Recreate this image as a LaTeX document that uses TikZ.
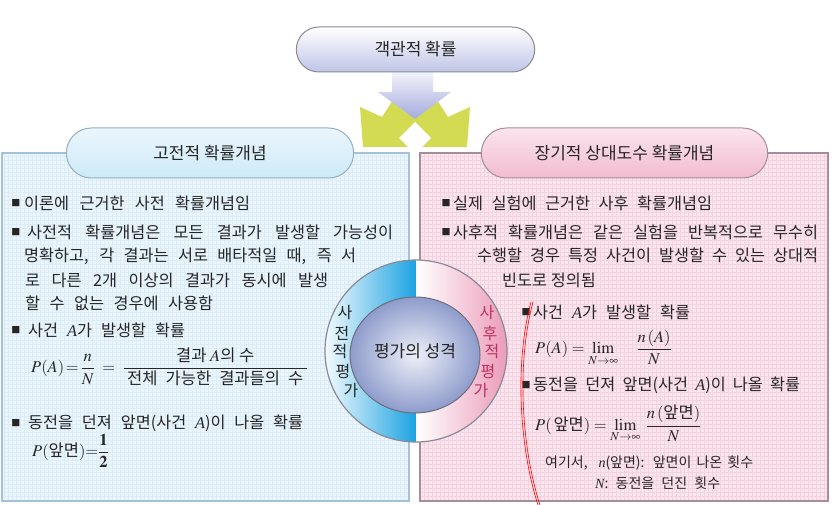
\documentclass[tikz,border=0pt]{standalone}
\usepackage{amsmath}
\usepackage{mathptmx}
\usepackage[no-math]{fontspec}
\setmainfont{Noto Sans CJK KR}
\newfontfamily\tms{Liberation Serif}
\usetikzlibrary{shapes.misc}
\definecolor{txt}{HTML}{262626}
\definecolor{leftfill}{HTML}{EBF5FC}
\definecolor{leftgrid}{HTML}{DDEDF8}
\definecolor{leftborder}{HTML}{A6C2D8}
\definecolor{rightfill}{HTML}{FBE5EE}
\definecolor{rightgrid}{HTML}{F4D2E0}
\definecolor{rightborder}{HTML}{A68C9C}
\definecolor{crown}{HTML}{D3DB52}
\definecolor{arrowtop}{HTML}{F2F2FB}
\definecolor{arrowbot}{HTML}{A4ACDC}
\definecolor{ringblue}{HTML}{1AA2E2}
\definecolor{ringpink}{HTML}{EA96B6}
\definecolor{ringborder}{HTML}{8A8A96}
\definecolor{ballin}{HTML}{EEF0F8}
\definecolor{ballout}{HTML}{8E9CCC}
\definecolor{redtxt}{HTML}{C0305E}
\newcommand{\ita}[1]{{\tms\itshape #1}}
\newcommand{\bodytxt}[5]{\node[bodyline] (#1) at (#2,#4) {\makebox[\dimexpr #3pt-#2pt\relax][s]{#5}};}
\newcommand{\bulletnode}[3]{\node[bulletmark] (#1) at (#2,#3) {■};}
\tikzset{
  pill/.style={rounded rectangle, draw, line width=1pt, text=txt, font=\fontsize{17}{19}\selectfont},
  bodyline/.style={anchor=west, inner sep=0pt, text=txt, font=\fontsize{16.3}{18}\selectfont},
  smallline/.style={anchor=west, inner sep=0pt, text=txt, font=\fontsize{14}{16}\selectfont},
  bulletmark/.style={inner sep=0pt, text=txt, font=\fontsize{9}{9}\selectfont},
  formula/.style={anchor=west, inner sep=0pt, text=txt, font=\fontsize{16.5}{18}\selectfont},
  ringl/.style={inner sep=0pt, text=txt, font=\fontsize{16}{16}\selectfont},
  ringr/.style={inner sep=0pt, text=redtxt, font=\fontsize{16}{16}\selectfont},
  redmark/.style={draw=red, line width=0.6pt},
}
\begin{document}
\begin{tikzpicture}[x=1pt,y=-1pt]
\useasboundingbox (0,0) rectangle (832,505);
\fill[white] (0,0) rectangle (832,505);

% boxes
\fill[leftfill] (2,153) rectangle (409,501);
\draw[step=4pt, leftgrid, line width=0.3pt] (2,501) grid (409,153);
\draw[leftborder, line width=1.4pt] (2,153) rectangle (409,501);
\fill[rightfill] (420,153) rectangle (828,501);
\draw[step=4pt, rightgrid, line width=0.3pt] (420,501) grid (828,153);
\draw[rightborder, line width=1.4pt] (420,153) rectangle (828,501);

% crown and arrow
\fill[crown] (360,107) -- (382,117) -- (393,100) -- (415,118) -- (437,100) -- (448,117) -- (470,107) -- (467,147) -- (363,147) -- cycle;
\fill[white] (415,122) -- (431,138) -- (415,154) -- (399,138) -- cycle;
\shade[top color=arrowtop, bottom color=arrowbot] (392,72) -- (433,72) -- (433,92) -- (451,92) -- (415,119) -- (378,92) -- (392,92) -- cycle;

% title pills
\node[pill, draw=ringborder, top color=white, bottom color=arrowbot!70] (toptitle) at (415.5,49.5) [minimum width=245pt, minimum height=45pt] {객관적 확률};
\node[pill, draw=leftborder!90!black, top color=leftfill, bottom color=ringblue!22] (lefttitle) at (210,153) [minimum width=294pt, minimum height=50pt] {고전적 확률개념};
\node[pill, draw=rightborder, top color=rightfill, bottom color=ringpink!65] (righttitle) at (624.5,153) [minimum width=293pt, minimum height=50pt] {장기적 상대도수 확률개념};

% left text
\bulletnode{lb1}{16}{203}
\bodytxt{l1}{24}{250}{203}{이론에 근거한 사전 확률개념임}
\bulletnode{lb2}{16}{232}
\bodytxt{l2}{27}{393}{232}{사전적 확률개념은 모든 결과가 발생할 가능성이}
\bodytxt{l3}{24}{356}{256}{명확하고, 각 결과는 서로 배타적일 때, 즉 서}
\bodytxt{l4}{25}{328}{280}{로 다른 2개 이상의 결과가 동시에 발생}
\bodytxt{l5}{25}{213}{303}{할 수 없는 경우에 사용함}
\bulletnode{lb3}{16}{330}
\bodytxt{l6}{28}{185}{330}{사건 \ita{A}가 발생할 확률}
\node[formula] (lf1) at (31,367) {$P(A)\,{=}\,\dfrac{n}{N}\;\;{=}\;\;\dfrac{\mbox{결과 }A\mbox{의 수}}{\makebox[183pt]{\makebox[176pt][s]{전체 가능한 결과들의 수}}}$};
\bulletnode{lb4}{16}{423}
\bodytxt{l7}{28}{303}{423}{동전을 던져 앞면(사건 \ita{A})이 나올 확률}
\node[formula] (lf2) at (32,451) {$P(\mbox{앞면}){=}\dfrac{\mathbf{1}}{\mathbf{2}}$};

% right text
\bulletnode{rb1}{446}{203}
\bodytxt{r1}{453}{712}{203}{실제 실험에 근거한 사후 확률개념임}
\bulletnode{rb2}{446}{232}
\bodytxt{r2}{453}{818}{232}{사후적 확률개념은 같은 실험을 반복적으로 무수히}
\bodytxt{r3}{477}{818}{255}{수행할 경우 특정 사건이 발생할 수 있는 상대적}
\node[bodyline] (r4) at (502,280) {빈도로 정의됨};
\bulletnode{rb3}{526}{312}
\bodytxt{r5}{533}{690}{312}{사건 \ita{A}가 발생할 확률}
\node[formula] (rf1) at (535,348) {$P(A)=\lim\limits_{N\to\infty}\quad\dfrac{n\,(A)}{N}$};
\bulletnode{rb4}{526}{385}
\bodytxt{r6}{533}{800}{385}{동전을 던져 앞면(사건 \ita{A})이 나올 확률}
\node[formula] (rf2) at (535,424) {$P(\,\mbox{앞면})=\lim\limits_{N\to\infty}\;\dfrac{n\,(\mbox{앞면})}{N}$};
\node[smallline] (r7) at (545,463) {\makebox[208pt][s]{여기서, \ \ita{n}(앞면): 앞면이 나온 횟수}};
\node[smallline] (r8) at (595,483) {\makebox[125pt][s]{\ita{N}: 동전을 던진 횟수}};

% red annotation line
\draw[redmark] (531,302) .. controls (514,365) and (520,450) .. (538,505);
\draw[redmark] (533,302) .. controls (516,365) and (522,450) .. (540,505);

% circle
\begin{scope}
  \clip (416,351) circle (91pt);
  \shade[left color=white, right color=ringblue] (320,255) rectangle (416.5,450);
  \shade[left color=white, right color=ringpink] (416.5,255) rectangle (512,450);
\end{scope}
\draw[ringborder, line width=1.2pt] (416,351) circle (91pt);
\shade[inner color=ballin, outer color=ballout] (415,355) ellipse (65pt and 58pt);
\draw[ringborder!80!black, line width=1pt] (415,355) ellipse (65pt and 58pt);
\node[text=txt, font=\fontsize{17}{18}\selectfont] (centertext) at (415,351) {평가의 성격};

\node[ringl] (rl1) at (345,313) {사};
\node[ringl] (rl2) at (342,333) {전};
\node[ringl] (rl3) at (340,352) {적};
\node[ringl] (rl4) at (343,371) {평};
\node[ringl] (rl5) at (351,390) {가};
\node[ringr] (rr1) at (487,313) {사};
\node[ringr] (rr2) at (490,333) {후};
\node[ringr] (rr3) at (492,352) {적};
\node[ringr] (rr4) at (488,371) {평};
\node[ringr] (rr5) at (481,390) {가};
\end{tikzpicture}
\end{document}
